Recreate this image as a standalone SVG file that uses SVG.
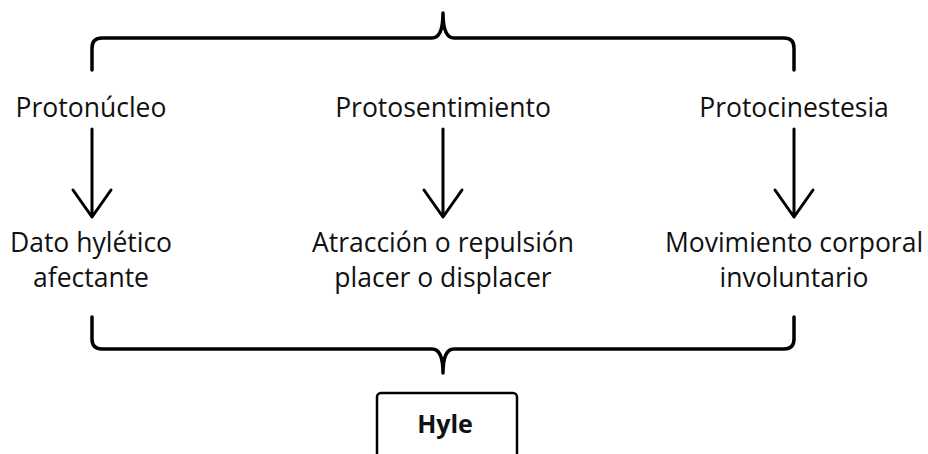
<svg xmlns="http://www.w3.org/2000/svg" width="928" height="454" viewBox="0 0 928 454">
<style>
.t{font-family:"Open Sans","Noto Sans",sans-serif;font-size:26.5px;fill:#111;text-anchor:middle}
.b{font-weight:bold;font-size:25px}
.br{fill:none;stroke:#000;stroke-width:3.5;stroke-linecap:round;stroke-linejoin:round}
.ar{fill:none;stroke:#000;stroke-width:3;stroke-linecap:round;stroke-linejoin:round}
</style>
<rect width="928" height="454" fill="#fff"/>
<g id="connectors">
<path class="br" d="M92,70 V48 Q92,38 102,38 H432 Q443,38 443,13 Q443,38 454,38 H784 Q794,38 794,48 V70"/>
<path class="br" d="M92,317 V339 Q92,349 102,349 H432 Q443,349 443,373 Q443,349 454,349 H784 Q794,349 794,339 V317"/>
<path class="ar" d="M92,129 V217 M73,190 L92,217 L111,190"/>
<path class="ar" d="M443,129 V217 M424,190 L443,217 L462,190"/>
<path class="ar" d="M794,129 V217 M775,190 L794,217 L813,190"/>
</g>
<g id="protonucleo"><text class="t" x="91" y="117">Protonúcleo</text></g>
<g id="protosentimiento"><text class="t" x="443" y="117">Protosentimiento</text></g>
<g id="protocinestesia"><text class="t" x="794" y="117">Protocinestesia</text></g>
<g id="dato"><text class="t" x="91" y="252">Dato hylético</text><text class="t" x="91" y="287">afectante</text></g>
<g id="atraccion"><text class="t" x="443" y="252">Atracción o repulsión</text><text class="t" x="443" y="287">placer o displacer</text></g>
<g id="movimiento"><text class="t" x="794" y="252">Movimiento corporal</text><text class="t" x="794" y="287">involuntario</text></g>
<g id="hyle"><rect x="377" y="393" width="140" height="80" rx="4" fill="#fff" stroke="#000" stroke-width="2.5"/><text class="t b" x="445" y="433">Hyle</text></g>
</svg>
